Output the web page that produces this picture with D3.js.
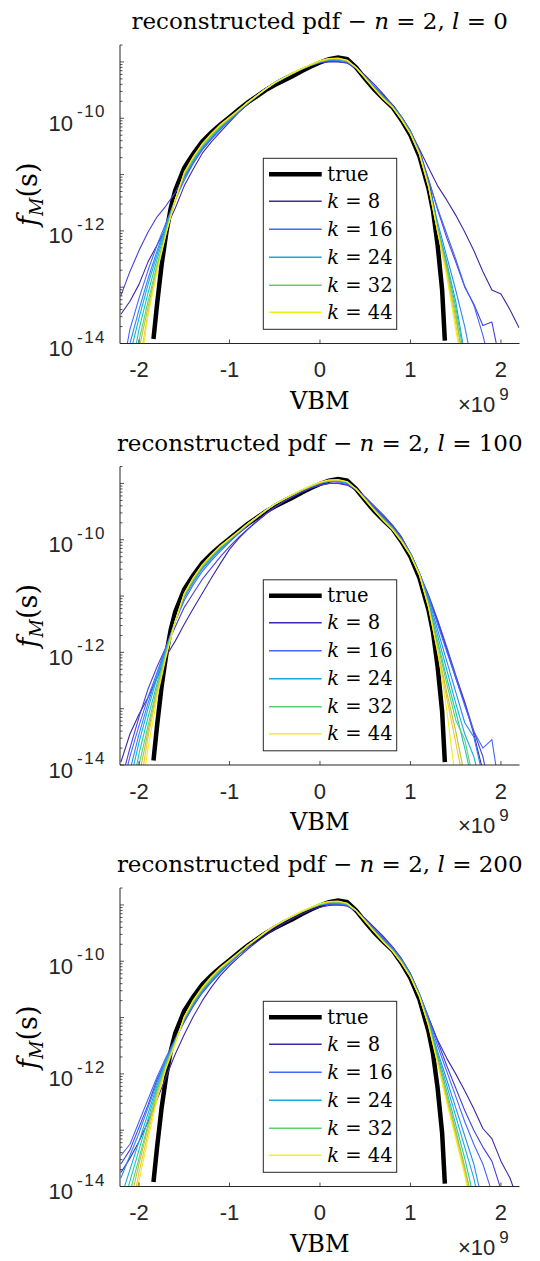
<!DOCTYPE html>
<html>
<head>
<meta charset="utf-8">
<script src="https://cdn.jsdelivr.net/npm/d3@7"></script>
<style>
  body { margin: 0; background: #fff; }
  svg text { white-space: pre; }
  .tick-label { font-family: "Liberation Sans", Arial, sans-serif; fill: #262626; }
  .serif { font-family: "DejaVu Serif", "Liberation Serif", serif; fill: #000; }
</style>
</head>
<body>
<svg id="chart" width="540" height="1261"></svg>
<script>
// VBM grid (x 10^9) shared by the reconstructed curves
var vbmGrid = [-2.2, -2.1, -2.0, -1.9, -1.8, -1.7, -1.6, -1.5, -1.4, -1.3,
  -1.2, -1.1, -1.0, -0.9, -0.8, -0.7, -0.6, -0.5, -0.4, -0.3,
  -0.2, -0.1, 0, 0.1, 0.2, 0.3, 0.4, 0.5, 0.6, 0.7,
  0.8, 0.9, 1.0, 1.1, 1.2, 1.3, 1.4, 1.5, 1.6, 1.7,
  1.8, 1.9, 2.0, 2.1, 2.2];

// true pdf (log10 f_M), same in every panel
var trueVbm = [-1.84, -1.8, -1.75, -1.7, -1.65, -1.6, -1.5, -1.4, -1.3, -1.2, -1.1, -1.0,
  -0.9, -0.8, -0.7, -0.6, -0.5, -0.4, -0.3, -0.2, -0.1, 0, 0.1, 0.2, 0.3, 0.4, 0.5,
  0.6, 0.7, 0.8, 0.9, 1.0, 1.1, 1.2, 1.25, 1.3, 1.35, 1.38];
var trueLogPdf = [-13.92, -13.3, -12.6, -12.05, -11.6, -11.28, -10.88, -10.63, -10.41, -10.25, -10.11, -9.98,
  -9.85, -9.72, -9.61, -9.5, -9.41, -9.33, -9.25, -9.16, -9.08, -9.01, -8.95, -8.92, -8.95, -9.1, -9.3,
  -9.49, -9.65, -9.8, -10.03, -10.3, -10.68, -11.25, -11.65, -12.25, -13.05, -13.95];

var kValues = [8, 12, 16, 20, 24, 28, 32, 36, 40, 44];
var legendK = [8, 16, 24, 32, 44];
var lValues = [0, 100, 200];

var yTickLabels = [-14, -12, -10];
var xTicks = [-2, -1, 0, 1, 2];

// ---- l = 0 ----
var l0k8 = [-13.48, -13.25, -12.95, -12.55, -12.25, -11.95, -11.6, -11.2, -10.9, -10.62,
  -10.42, -10.24, -10.07, -9.9, -9.75, -9.6, -9.47, -9.36, -9.27, -9.19,
  -9.12, -9.06, -9.02, -9.0, -9.0, -9.02, -9.1, -9.24, -9.4, -9.57,
  -9.76, -9.98, -10.24, -10.55, -10.88, -11.2, -11.45, -11.72, -12.02, -12.35,
  -12.72, -13.05, -13.12, -13.4, -13.72];
var l0k12 = [-13.15, -12.72, -12.35, -12.02, -11.75, -11.55, -11.32, -11.05, -10.8, -10.55,
  -10.36, -10.19, -10.04, -9.89, -9.74, -9.6, -9.47, -9.37, -9.28, -9.2,
  -9.12, -9.06, -9.01, -8.99, -8.99, -9.02, -9.12, -9.27, -9.44, -9.6,
  -9.76, -9.97, -10.22, -10.58, -11.08, -11.62, -12.12, -12.55, -13.0, -13.3,
  -13.68, -13.62, -14.4, null, null];
var l0k16 = [-14.6, -13.75, -13.2, -12.7, -12.25, -11.85, -11.45, -11.1, -10.8, -10.56,
  -10.37, -10.2, -10.04, -9.89, -9.74, -9.61, -9.48, -9.37, -9.28, -9.2,
  -9.12, -9.06, -9.0, -8.97, -8.97, -9.0, -9.1, -9.26, -9.44, -9.61,
  -9.77, -9.98, -10.23, -10.6, -11.1, -11.6, -12.05, -12.5, -12.98, -13.32,
  -13.85, -14.5, null, null, null];
var l0k20 = [-14.8, -14.0, -13.4, -12.85, -12.35, -11.9, -11.45, -11.05, -10.77, -10.53,
  -10.35, -10.18, -10.03, -9.88, -9.74, -9.61, -9.48, -9.38, -9.29, -9.2,
  -9.13, -9.06, -9.0, -8.97, -8.96, -8.99, -9.1, -9.27, -9.45, -9.62,
  -9.78, -9.99, -10.24, -10.62, -11.15, -11.85, -12.45, -13.05, -13.7, -14.5,
  null, null, null, null, null];
var l0k24 = [null, -14.2, -13.55, -12.95, -12.42, -11.92, -11.45, -11.02, -10.74, -10.5,
  -10.33, -10.17, -10.02, -9.87, -9.73, -9.6, -9.48, -9.37, -9.28, -9.2,
  -9.12, -9.06, -9.0, -8.96, -8.96, -8.99, -9.1, -9.28, -9.46, -9.63,
  -9.79, -10.0, -10.25, -10.62, -11.18, -11.92, -12.55, -13.25, -14.2, null,
  null, null, null, null, null];
var l0k28 = [null, -14.6, -13.75, -13.1, -12.5, -11.95, -11.45, -11.0, -10.72, -10.49,
  -10.31, -10.15, -10.01, -9.87, -9.73, -9.6, -9.48, -9.37, -9.28, -9.2,
  -9.12, -9.05, -8.99, -8.96, -8.95, -8.98, -9.1, -9.28, -9.47, -9.64,
  -9.79, -10.0, -10.26, -10.63, -11.2, -11.95, -12.6, -13.35, -14.3, null,
  null, null, null, null, null];
var l0k32 = [null, -14.8, -13.95, -13.25, -12.6, -12.0, -11.47, -11.0, -10.71, -10.48,
  -10.3, -10.14, -10.0, -9.86, -9.72, -9.6, -9.48, -9.37, -9.28, -9.2,
  -9.12, -9.05, -8.99, -8.95, -8.95, -8.98, -9.1, -9.28, -9.47, -9.64,
  -9.8, -10.01, -10.27, -10.64, -11.2, -11.98, -12.65, -13.45, -14.5, null,
  null, null, null, null, null];
var l0k36 = [null, null, -14.1, -13.35, -12.65, -12.02, -11.45, -10.98, -10.7, -10.47,
  -10.29, -10.13, -10.0, -9.86, -9.72, -9.6, -9.48, -9.37, -9.28, -9.2,
  -9.12, -9.05, -8.99, -8.95, -8.94, -8.98, -9.1, -9.28, -9.47, -9.65,
  -9.8, -10.02, -10.27, -10.65, -11.22, -12.0, -12.7, -13.55, -14.4, null,
  null, null, null, null, null];
var l0k40 = [null, null, -14.4, -13.45, -12.7, -12.03, -11.45, -10.97, -10.69, -10.46,
  -10.28, -10.12, -9.99, -9.86, -9.72, -9.6, -9.48, -9.37, -9.28, -9.2,
  -9.12, -9.05, -8.98, -8.94, -8.94, -8.97, -9.1, -9.29, -9.48, -9.65,
  -9.8, -10.02, -10.28, -10.64, -11.22, -12.02, -12.75, -13.65, -14.6, null,
  null, null, null, null, null];
var l0k44 = [null, null, -14.6, -13.5, -12.72, -12.05, -11.45, -10.96, -10.68, -10.45,
  -10.27, -10.11, -9.98, -9.85, -9.72, -9.6, -9.48, -9.37, -9.28, -9.19,
  -9.11, -9.04, -8.98, -8.94, -8.93, -8.97, -9.1, -9.29, -9.48, -9.66,
  -9.8, -10.02, -10.28, -10.63, -11.2, -12.02, -12.8, -13.75, -14.6, null,
  null, null, null, null, null];

// ---- l = 100 ----
var l100k8 = [-13.95, -13.45, -13.1, -12.8, -12.45, -12.07, -11.8, -11.5, -11.22, -10.95,
  -10.68, -10.42, -10.17, -9.98, -9.82, -9.68, -9.55, -9.43, -9.32, -9.23,
  -9.15, -9.08, -9.03, -9.0, -9.0, -9.03, -9.12, -9.25, -9.42, -9.58,
  -9.74, -9.95, -10.25, -10.62, -11.0, -11.45, -11.95, -12.45, -12.9, -13.45,
  -14.1, null, null, null, null];
var l100k12 = [-14.3, -13.7, -13.15, -12.65, -12.25, -11.9, -11.55, -11.2, -10.95, -10.7,
  -10.5, -10.3, -10.12, -9.96, -9.81, -9.67, -9.54, -9.42, -9.32, -9.23,
  -9.15, -9.08, -9.03, -9.0, -8.99, -9.02, -9.11, -9.24, -9.4, -9.56,
  -9.74, -9.95, -10.24, -10.6, -10.98, -11.42, -11.9, -12.4, -12.88, -13.4,
  -13.85, -14.6, null, null, null];
var l100k16 = [-14.5, -13.85, -13.3, -12.8, -12.35, -11.9, -11.45, -11.08, -10.8, -10.56,
  -10.37, -10.2, -10.04, -9.89, -9.74, -9.61, -9.48, -9.37, -9.28, -9.2,
  -9.12, -9.06, -9.0, -8.97, -8.97, -9.0, -9.1, -9.26, -9.44, -9.6,
  -9.77, -9.98, -10.24, -10.6, -11.02, -11.5, -11.98, -12.45, -12.95, -13.4,
  -13.7, -13.55, -14.6, null, null];
var l100k20 = [null, -14.1, -13.45, -12.9, -12.4, -11.92, -11.45, -11.03, -10.76, -10.52,
  -10.34, -10.17, -10.02, -9.88, -9.74, -9.61, -9.48, -9.37, -9.28, -9.2,
  -9.12, -9.06, -9.0, -8.96, -8.96, -8.99, -9.1, -9.27, -9.45, -9.62,
  -9.78, -9.99, -10.24, -10.6, -11.05, -11.6, -12.15, -12.7, -13.25, -13.5,
  -14.2, null, null, null, null];
var l100k24 = [null, -14.3, -13.6, -13.0, -12.45, -11.95, -11.45, -11.0, -10.73, -10.5,
  -10.32, -10.16, -10.01, -9.87, -9.73, -9.6, -9.48, -9.37, -9.28, -9.2,
  -9.12, -9.05, -8.99, -8.96, -8.95, -8.98, -9.1, -9.28, -9.46, -9.63,
  -9.79, -10.0, -10.25, -10.6, -11.1, -11.7, -12.3, -12.9, -13.45, -13.85,
  -14.5, null, null, null, null];
var l100k28 = [null, -14.6, -13.8, -13.15, -12.55, -11.98, -11.45, -10.98, -10.71, -10.48,
  -10.3, -10.14, -10.0, -9.86, -9.72, -9.6, -9.48, -9.37, -9.28, -9.2,
  -9.12, -9.05, -8.99, -8.95, -8.95, -8.98, -9.1, -9.28, -9.47, -9.64,
  -9.8, -10.01, -10.26, -10.62, -11.15, -11.8, -12.45, -13.05, -13.7, -14.4,
  null, null, null, null, null];
var l100k32 = [null, null, -14.0, -13.3, -12.62, -12.0, -11.45, -10.97, -10.7, -10.47,
  -10.29, -10.13, -10.0, -9.86, -9.72, -9.6, -9.48, -9.37, -9.28, -9.2,
  -9.12, -9.05, -8.99, -8.95, -8.94, -8.98, -9.1, -9.28, -9.47, -9.64,
  -9.8, -10.01, -10.26, -10.63, -11.18, -11.85, -12.55, -13.2, -13.55, -14.3,
  null, null, null, null, null];
var l100k36 = [null, null, -14.2, -13.4, -12.68, -12.03, -11.45, -10.97, -10.69, -10.46,
  -10.28, -10.12, -9.99, -9.86, -9.72, -9.6, -9.48, -9.37, -9.28, -9.2,
  -9.12, -9.05, -8.98, -8.95, -8.94, -8.97, -9.1, -9.28, -9.47, -9.65,
  -9.81, -10.02, -10.27, -10.63, -11.2, -11.95, -12.7, -13.4, -14.2, null,
  null, null, null, null, null];
var l100k40 = [null, null, -14.5, -13.5, -12.72, -12.05, -11.45, -10.96, -10.68, -10.45,
  -10.27, -10.11, -9.98, -9.85, -9.72, -9.6, -9.48, -9.37, -9.28, -9.19,
  -9.11, -9.04, -8.98, -8.94, -8.94, -8.97, -9.1, -9.29, -9.48, -9.65,
  -9.81, -10.02, -10.27, -10.63, -11.2, -12.0, -12.8, -13.6, -14.4, null,
  null, null, null, null, null];
var l100k44 = [null, null, -14.8, -13.7, -12.8, -12.07, -11.45, -10.95, -10.67, -10.44,
  -10.27, -10.11, -9.98, -9.85, -9.72, -9.6, -9.48, -9.37, -9.28, -9.19,
  -9.11, -9.04, -8.98, -8.94, -8.93, -8.97, -9.1, -9.29, -9.48, -9.66,
  -9.82, -10.03, -10.28, -10.62, -11.18, -11.98, -13.0, -14.3, null, null,
  null, null, null, null, null];

// ---- l = 200 ----
var l200k8 = [-13.75, -13.5, -13.2, -12.85, -12.45, -12.05, -11.65, -11.3, -10.98, -10.7,
  -10.46, -10.25, -10.08, -9.93, -9.79, -9.66, -9.54, -9.43, -9.33, -9.24,
  -9.16, -9.09, -9.04, -9.01, -9.0, -9.02, -9.1, -9.24, -9.4, -9.56,
  -9.74, -9.95, -10.22, -10.6, -11.0, -11.4, -11.72, -12.0, -12.3, -12.62,
  -12.97, -13.15, -13.55, -13.85, -14.3];
var l200k12 = [-13.6, -13.35, -12.95, -12.55, -12.1, -11.75, -11.4, -11.08, -10.8, -10.56,
  -10.37, -10.2, -10.04, -9.89, -9.75, -9.62, -9.5, -9.39, -9.29, -9.2,
  -9.12, -9.06, -9.01, -8.99, -8.99, -9.02, -9.11, -9.25, -9.42, -9.58,
  -9.75, -9.96, -10.22, -10.58, -11.0, -11.42, -11.85, -12.25, -12.65, -13.0,
  -13.3, -13.55, -14.05, null, null];
var l200k16 = [-13.45, -13.25, -12.85, -12.45, -12.05, -11.7, -11.38, -11.05, -10.78, -10.55,
  -10.36, -10.19, -10.03, -9.88, -9.74, -9.61, -9.49, -9.38, -9.29, -9.2,
  -9.12, -9.06, -9.0, -8.98, -8.98, -9.01, -9.1, -9.26, -9.43, -9.6,
  -9.76, -9.97, -10.23, -10.58, -11.02, -11.5, -11.95, -12.4, -12.85, -13.25,
  -13.6, -14.1, null, null, null];
var l200k20 = [-13.85, -13.45, -13.05, -12.6, -12.15, -11.75, -11.4, -11.04, -10.76, -10.53,
  -10.35, -10.18, -10.03, -9.88, -9.74, -9.61, -9.48, -9.38, -9.28, -9.2,
  -9.12, -9.06, -9.0, -8.97, -8.97, -9.0, -9.1, -9.27, -9.45, -9.62,
  -9.78, -9.98, -10.24, -10.6, -11.05, -11.6, -12.1, -12.6, -13.1, -13.6,
  -14.3, null, null, null, null];
var l200k24 = [-14.2, -13.7, -13.2, -12.7, -12.2, -11.78, -11.42, -11.03, -10.75, -10.51,
  -10.33, -10.17, -10.02, -9.87, -9.73, -9.6, -9.48, -9.37, -9.28, -9.2,
  -9.12, -9.05, -8.99, -8.96, -8.96, -8.99, -9.1, -9.28, -9.46, -9.63,
  -9.79, -9.99, -10.25, -10.6, -11.08, -11.65, -12.2, -12.75, -13.3, -13.85,
  -14.6, null, null, null, null];
var l200k28 = [-14.5, -13.9, -13.35, -12.8, -12.25, -11.8, -11.43, -11.02, -10.73, -10.5,
  -10.31, -10.15, -10.01, -9.86, -9.72, -9.6, -9.48, -9.37, -9.28, -9.2,
  -9.12, -9.05, -8.99, -8.96, -8.95, -8.98, -9.1, -9.28, -9.47, -9.64,
  -9.8, -10.0, -10.26, -10.62, -11.1, -11.7, -12.3, -12.9, -13.5, -14.2,
  null, null, null, null, null];
var l200k32 = [null, -14.1, -13.5, -12.9, -12.3, -11.82, -11.44, -11.01, -10.72, -10.49,
  -10.3, -10.14, -10.0, -9.86, -9.72, -9.6, -9.48, -9.37, -9.28, -9.2,
  -9.12, -9.05, -8.99, -8.95, -8.95, -8.98, -9.1, -9.28, -9.47, -9.64,
  -9.8, -10.01, -10.27, -10.63, -11.12, -11.75, -12.38, -13.0, -13.65, -14.4,
  null, null, null, null, null];
var l200k36 = [null, -14.3, -13.6, -12.95, -12.35, -11.85, -11.45, -11.0, -10.71, -10.48,
  -10.29, -10.13, -10.0, -9.86, -9.72, -9.6, -9.48, -9.37, -9.28, -9.2,
  -9.12, -9.05, -8.98, -8.95, -8.94, -8.98, -9.1, -9.28, -9.47, -9.65,
  -9.81, -10.02, -10.27, -10.63, -11.13, -11.78, -12.42, -13.05, -13.7, -14.3,
  null, null, null, null, null];
var l200k40 = [null, -14.6, -13.75, -13.05, -12.4, -11.88, -11.46, -10.99, -10.7, -10.47,
  -10.28, -10.12, -9.99, -9.85, -9.72, -9.6, -9.48, -9.37, -9.28, -9.19,
  -9.11, -9.04, -8.98, -8.94, -8.94, -8.97, -9.1, -9.29, -9.48, -9.65,
  -9.81, -10.02, -10.28, -10.63, -11.14, -11.8, -12.45, -13.1, -13.75, -14.5,
  null, null, null, null, null];
var l200k44 = [null, -14.6, -13.9, -13.15, -12.45, -11.9, -11.47, -10.98, -10.69, -10.46,
  -10.27, -10.11, -9.98, -9.85, -9.72, -9.6, -9.48, -9.37, -9.28, -9.19,
  -9.11, -9.04, -8.98, -8.94, -8.93, -8.97, -9.1, -9.29, -9.48, -9.66,
  -9.82, -10.03, -10.28, -10.63, -11.15, -11.82, -12.5, -13.15, -13.8, -14.6,
  null, null, null, null, null];

var panelCurves = [
  [l0k8, l0k12, l0k16, l0k20, l0k24, l0k28, l0k32, l0k36, l0k40, l0k44],
  [l100k8, l100k12, l100k16, l100k20, l100k24, l100k28, l100k32, l100k36, l100k40, l100k44],
  [l200k8, l200k12, l200k16, l200k20, l200k24, l200k28, l200k32, l200k36, l200k40, l200k44]
];

// parula-like colormap stops
var parulaStops = ['#3e26a8', '#4847eb', '#446dfd', '#2e81f9', '#2796eb', '#19abd9', '#0fbbc9',
  '#24c6ac', '#42cc8c', '#73cd63', '#a3cb38', '#d2bf2e', '#fcbd3d', '#f5df24', '#f2f016'];
var parulaPos = [0, 0.14, 0.24, 0.32, 0.38, 0.44, 0.5, 0.56, 0.62, 0.7, 0.76, 0.83, 0.89, 0.95, 1];

var PdfPanel;

PdfPanel = (function() {

  function PdfPanel(svg, index) {
    this.svg = svg;
    this.index = index;
    this.top = 45 + index * 421.5;
    this.left = 120;
    this.width = 399.5;
    this.height = 298.5;

    this.buildScales();
    this.buildSVG();
  }

  PdfPanel.prototype.buildScales = function() {
    this.x = d3.scaleLinear()
      .domain([-2.21, 2.205])
      .range([0, this.width]);
    this.y = d3.scaleLog()
      .domain([1e-14, 2e-9])
      .range([this.height, 0]);
    this.color = d3.scaleLinear()
      .domain(parulaPos)
      .range(parulaStops)
      .interpolate(d3.interpolateRgb);
  };

  PdfPanel.prototype.kColor = function(k) {
    return this.color((k - kValues[0]) / (kValues[kValues.length - 1] - kValues[0]));
  };

  PdfPanel.prototype.buildSVG = function() {
    var self = this;
    var g = this.svg.append('g')
      .attr('transform', 'translate(' + this.left + ',' + this.top + ')');

    var clipId = 'clip' + this.index;
    g.append('clipPath').attr('id', clipId)
      .append('rect')
      .attr('width', this.width)
      .attr('height', this.height);

    var line = d3.line()
      .defined(function(d) { return d[1] !== null; })
      .x(function(d) { return self.x(d[0]); })
      .y(function(d) { return self.y(Math.pow(10, d[1])); });

    var plot = g.append('g').attr('clip-path', 'url(#' + clipId + ')');

    plot.append('path')
      .datum(d3.zip(trueVbm, trueLogPdf))
      .attr('fill', 'none')
      .attr('stroke', '#000')
      .attr('stroke-width', 4.5)
      .attr('d', line);

    plot.selectAll('.kline')
      .data(panelCurves[this.index])
      .enter()
      .append('path')
      .attr('class', 'kline')
      .attr('fill', 'none')
      .attr('stroke', function(d, i) { return self.kColor(kValues[i]); })
      .attr('stroke-width', 1.1)
      .attr('stroke-linejoin', 'round')
      .attr('d', function(d) { return line(d3.zip(vbmGrid, d)); });

    // axes, MATLAB style: ticks pointing inwards, no box
    var axisColor = '#262626';
    g.append('line')
      .attr('x1', 0).attr('x2', 0).attr('y1', 0).attr('y2', this.height)
      .attr('stroke', axisColor);
    g.append('line')
      .attr('x1', 0).attr('x2', this.width).attr('y1', this.height).attr('y2', this.height)
      .attr('stroke', axisColor);

    g.selectAll('.ytick')
      .data(this.y.ticks())
      .enter()
      .append('line')
      .attr('class', 'ytick')
      .attr('x1', 0)
      .attr('x2', function(d) { return Math.abs(Math.log10(d) % 1) < 1e-6 ? 4 : 2.5; })
      .attr('y1', function(d) { return self.y(d); })
      .attr('y2', function(d) { return self.y(d); })
      .attr('stroke', axisColor)
      .attr('stroke-width', 0.8);

    g.selectAll('.xtick')
      .data(xTicks)
      .enter()
      .append('line')
      .attr('class', 'xtick')
      .attr('x1', function(d) { return self.x(d); })
      .attr('x2', function(d) { return self.x(d); })
      .attr('y1', this.height)
      .attr('y2', this.height - 4)
      .attr('stroke', axisColor)
      .attr('stroke-width', 0.8);

    g.selectAll('.xlabel')
      .data(xTicks)
      .enter()
      .append('text')
      .attr('class', 'tick-label')
      .attr('x', function(d) { return self.x(d); })
      .attr('y', this.height + 33.5)
      .attr('text-anchor', 'middle')
      .attr('font-size', 22)
      .text(function(d) { return d; });

    var ylab = g.selectAll('.ylabel')
      .data(yTickLabels)
      .enter()
      .append('g')
      .attr('transform', function(d) { return 'translate(0,' + self.y(Math.pow(10, d)) + ')'; });
    ylab.append('text')
      .attr('class', 'tick-label')
      .attr('x', -47)
      .attr('y', 12.5)
      .attr('text-anchor', 'end')
      .attr('font-size', 22)
      .text('10');
    ylab.append('text')
      .attr('class', 'tick-label')
      .attr('x', -43)
      .attr('y', -1)
      .attr('font-size', 17)
      .attr('letter-spacing', 1.5)
      .text(function(d) { return String(d); });

    // x10^9 multiplier
    var mult = g.append('text')
      .attr('class', 'tick-label')
      .attr('x', 338)
      .attr('y', this.height + 68)
      .attr('font-size', 22);
    mult.append('tspan').text('\u00d710');
    mult.append('tspan').attr('font-size', 17).attr('dy', -12).attr('dx', 4).text('9');

    // title
    var title = g.append('text')
      .attr('class', 'serif')
      .attr('x', this.width / 2)
      .attr('y', -16)
      .attr('text-anchor', 'middle')
      .attr('font-size', 23);
    title.append('tspan').text('reconstructed pdf \u2212 ');
    title.append('tspan').attr('font-style', 'italic').text('n');
    title.append('tspan').text(' = 2, ');
    title.append('tspan').attr('font-style', 'italic').text('l');
    title.append('tspan').text(' = ' + lValues[this.index]);

    // x label
    g.append('text')
      .attr('class', 'serif')
      .attr('x', this.width / 2)
      .attr('y', this.height + 65)
      .attr('text-anchor', 'middle')
      .attr('font-size', 24)
      .text('VBM');

    // y label
    var yl = g.append('text')
      .attr('class', 'serif')
      .attr('transform', 'translate(-83,' + (this.height / 2) + ') rotate(-90)')
      .attr('text-anchor', 'middle')
      .attr('font-size', 27);
    yl.append('tspan').attr('font-style', 'italic').text('f');
    yl.append('tspan').attr('font-style', 'italic').attr('font-size', 18).attr('dy', 6).text('M');
    yl.append('tspan').attr('dy', -6).text('(s)');

    this.buildLegend(g);
  };

  PdfPanel.prototype.buildLegend = function(g) {
    var self = this;
    var lg = g.append('g').attr('transform', 'translate(143.3,113.3)');
    lg.append('rect')
      .attr('width', 133.4)
      .attr('height', 171)
      .attr('fill', '#fff')
      .attr('stroke', '#262626')
      .attr('stroke-width', 1);

    var entries = [{ label: 'true', color: '#000', width: 4.5 }].concat(
      legendK.map(function(k) { return { k: k, color: self.kColor(k), width: 1.5 }; }));

    var row = lg.selectAll('.entry')
      .data(entries)
      .enter()
      .append('g')
      .attr('transform', function(d, i) { return 'translate(0,' + Math.round(15.7 + i * 27.7) + ')'; });

    row.append('line')
      .attr('x1', 5.7).attr('x2', 58.4)
      .attr('stroke', function(d) { return d.color; })
      .attr('stroke-width', function(d) { return d.width; });

    var t = row.append('text')
      .attr('class', 'serif')
      .attr('x', 64)
      .attr('y', 6.5)
      .attr('font-size', 19.5);
    t.each(function(d) {
      var el = d3.select(this);
      if (d.label) {
        el.text(d.label);
      } else {
        el.append('tspan').attr('font-style', 'italic').text('k');
        el.append('tspan').text(' = ' + d.k);
      }
    });
  };

  return PdfPanel;

})();

var svg = d3.select('#chart');
lValues.forEach(function(l, i) { new PdfPanel(svg, i); });
</script>
</body>
</html>
